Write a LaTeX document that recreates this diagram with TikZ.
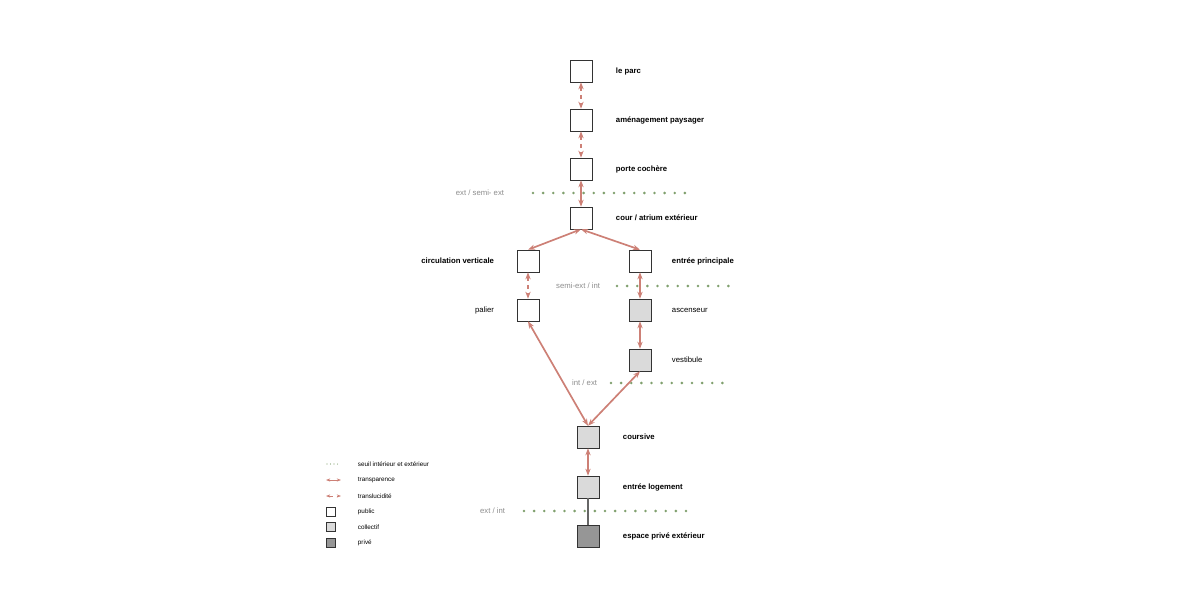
\documentclass[tikz,border=0pt]{standalone}
\usepackage{fontspec}
\setmainfont{Liberation Sans}
\usepackage{tikz}
\usetikzlibrary{arrows.meta}
\definecolor{rose}{RGB}{205,128,118}
\definecolor{seuil}{RGB}{128,160,110}
\definecolor{collectif}{RGB}{218,218,218}
\definecolor{prive}{RGB}{150,150,150}

\begin{document}
\begin{tikzpicture}[
    x=0.025cm, y=-0.025cm,
    space/.style={
        draw=black!80,
        rectangle,
        minimum size=0.55cm,
        inner sep=0pt
    },
    lbl/.style={font=\fontsize{5.5}{6}\selectfont\bfseries},
    lbn/.style={font=\fontsize{5.5}{6}\selectfont},
    seuiltxt/.style={font=\fontsize{5.5}{6}\selectfont, text=black!45, anchor=east},
    dots/.style={seuil, line width=2pt, line cap=round, dash pattern=on 0pt off 7.2pt},
    transp/.style={rose, line width=1.2pt, {Stealth[length=5pt]}-{Stealth[length=5pt]}},
    transl/.style={transp, dashed}
]
\useasboundingbox (0,0) rectangle (1200,600);

% spaces
\node[space] (parc) at (581,71) {};
\node[space] (amenag) at (581,120) {};
\node[space] (porte) at (581,169) {};
\node[space] (cour) at (581,218) {};
\node[space] (circ) at (528,261) {};
\node[space] (entree) at (640,261) {};
\node[space] (palier) at (528,310) {};
\node[space, fill=collectif] (asc) at (640,310) {};
\node[space, fill=collectif] (vest) at (640,360) {};
\node[space, fill=collectif] (coursive) at (588,437) {};
\node[space, fill=collectif] (logement) at (588,487) {};
\node[space, fill=prive] (espace) at (588,536) {};

% labels
\node[lbl, anchor=west] (tparc) at (611,71) {le parc};
\node[lbl, anchor=west] (tamenag) at (611,120) {aménagement paysager};
\node[lbl, anchor=west] (tporte) at (611,169) {porte cochère};
\node[lbl, anchor=west] (tcour) at (611,218) {cour / atrium extérieur};
\node[lbl, anchor=east] (tcirc) at (499,261) {circulation verticale};
\node[lbl, anchor=west] (tentree) at (667,261) {entrée principale};
\node[lbn, anchor=east] (tpalier) at (499,310) {palier};
\node[lbn, anchor=west] (tasc) at (667,310) {ascenseur};
\node[lbn, anchor=west] (tvest) at (667,360) {vestibule};
\node[lbl, anchor=west] (tcoursive) at (618,437) {coursive};
\node[lbl, anchor=west] (tlogement) at (618,487) {entrée logement};
\node[lbl, anchor=west] (tespace) at (618,536) {espace privé extérieur};

% seuils
\draw[dots] (533,193) -- (688,193);
\node[seuiltxt] (s1) at (509,193) {ext / semi- ext};
\draw[dots] (617,286) -- (731,286);
\node[seuiltxt] (s2) at (605,286) {semi-ext / int};
\draw[dots] (611,383) -- (725,383);
\node[seuiltxt] (s3) at (602,383) {int / ext};
\draw[dots] (524,511) -- (690,511);
\node[seuiltxt] (s4) at (510,511) {ext / int};

% liens
\draw[transl] (parc) -- (amenag);
\draw[transl] (amenag) -- (porte);
\draw[transp] (porte) -- (cour);
\draw[transp] (cour.south) -- (circ.north);
\draw[transp] (cour.south) -- (entree.north);
\draw[transl] (circ) -- (palier);
\draw[transp] (entree) -- (asc);
\draw[transp] (asc) -- (vest);
\draw[transp] (palier.south) -- (coursive.north);
\draw[transp] (vest.south) -- (coursive.north);
\draw[transp] (coursive) -- (logement);
\draw[black!60, line width=0.8pt] (logement) -- (espace);

% legende
\draw[seuil, line width=0.8pt, line cap=round, dash pattern=on 0pt off 2.5pt] (327,464) coordinate (l1a) -- (341,464) coordinate (l1b);
\draw[rose, line width=0.6pt, {Stealth[length=3pt]}-{Stealth[length=3pt]}] (326,480) coordinate (l2a) -- (341,480) coordinate (l2b);
\draw[rose, line width=0.6pt, dashed, {Stealth[length=3pt]}-{Stealth[length=3pt]}] (326,496) coordinate (l3a) -- (341,496) coordinate (l3b);
\node[draw=black!80, minimum size=0.22cm, inner sep=0pt] (lpub) at (331,512) {};
\node[draw=black!80, fill=collectif, minimum size=0.22cm, inner sep=0pt] (lcol) at (331,527) {};
\node[draw=black!80, fill=prive, minimum size=0.22cm, inner sep=0pt] (lpri) at (331,543) {};
\node[lbn, anchor=west, font=\fontsize{4.5}{5}\selectfont] (g1) at (353,464) {seuil intérieur et extérieur};
\node[lbn, anchor=west, font=\fontsize{4.5}{5}\selectfont] (g2) at (353,480) {transparence};
\node[lbn, anchor=west, font=\fontsize{4.5}{5}\selectfont] (g3) at (353,496) {translucidité};
\node[lbn, anchor=west, font=\fontsize{4.5}{5}\selectfont] (g4) at (353,512) {public};
\node[lbn, anchor=west, font=\fontsize{4.5}{5}\selectfont] (g5) at (353,527) {collectif};
\node[lbn, anchor=west, font=\fontsize{4.5}{5}\selectfont] (g6) at (353,543) {privé};

\end{tikzpicture}
\end{document}
